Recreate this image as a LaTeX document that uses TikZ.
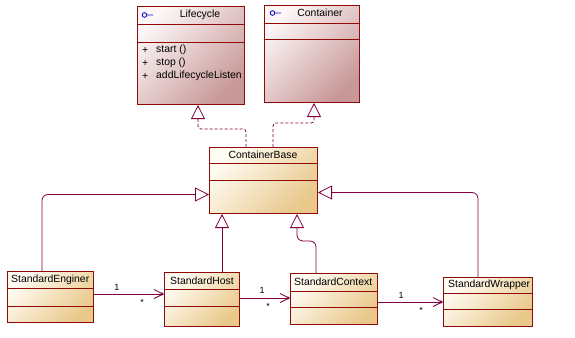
\documentclass[tikz,border=0pt]{standalone}
\usepackage{fontspec}
\setmainfont{Liberation Sans}
\usetikzlibrary{arrows.meta,calc}
\definecolor{bord}{RGB}{145,10,10}
\definecolor{lnk}{RGB}{128,0,64}
\definecolor{pinkL}{RGB}{252,246,246}
\definecolor{pinkD}{RGB}{200,152,152}
\definecolor{creamL}{RGB}{255,252,243}
\definecolor{creamD}{RGB}{233,200,138}
\definecolor{icon}{RGB}{20,20,200}
\begin{document}
\begin{tikzpicture}[x=1pt,y=-1pt,
  pinkcls/.style={draw=bord, line width=1pt, top color=pinkL, bottom color=pinkD, shading angle=45, inner sep=0pt, anchor=north west},
  creamcls/.style={draw=bord, line width=1pt, top color=creamL, bottom color=creamD, shading angle=45, inner sep=0pt, anchor=north west},
  divider/.style={draw=bord, line width=0.8pt},
  lbl/.style={font=\fontsize{10.4pt}{12pt}\selectfont, inner sep=0pt, text=black},
  mult/.style={font=\fontsize{9pt}{10pt}\selectfont, inner sep=0pt, text=black},
  gen/.style={draw=lnk, line width=0.8pt, rounded corners=6pt, -{Triangle[length=14pt,width=14pt,fill=white]}},
  real/.style={gen, dash pattern=on 3pt off 2pt, rounded corners=3pt},
  assoc/.style={draw=lnk, line width=0.8pt, -{Straight Barb[length=9pt,width=9pt]}}
]
\useasboundingbox (0,0) rectangle (575,337);

% Lifecycle
\node[pinkcls, minimum width=107pt, minimum height=98pt] (lc) at (137,6) {};
\draw[divider] ([yshift=-18pt]lc.north west) -- ([yshift=-18pt]lc.north east);
\draw[divider] ([yshift=-36pt]lc.north west) -- ([yshift=-36pt]lc.north east);
\draw[icon, line width=0.9pt] (144.5,15) circle (2.3pt) (146.8,15) -- (153,15);
\node[lbl] (lct) at (200,15) {Lifecycle};
\node[lbl, anchor=west] (p1) at (142,50) {+};
\node[lbl, anchor=west] (p2) at (142,63) {+};
\node[lbl, anchor=west] (p3) at (142,76) {+};
\node[lbl, anchor=west] (o1) at (156,50) {start ()};
\node[lbl, anchor=west] (o2) at (156,63) {stop ()};
\node[lbl, anchor=west] (o3) at (156,76) {addLifecycleListen};

% Container
\node[pinkcls, minimum width=95pt, minimum height=97pt] (ct) at (264,5) {};
\draw[divider] ([yshift=-18pt]ct.north west) -- ([yshift=-18pt]ct.north east);
\draw[divider] ([yshift=-34pt]ct.north west) -- ([yshift=-34pt]ct.north east);
\draw[icon, line width=0.9pt] (272.5,13) circle (2.3pt) (274.8,13) -- (281,13);
\node[lbl] (ctt) at (320,13) {Container};

% ContainerBase
\node[creamcls, minimum width=108pt, minimum height=66pt] (cb) at (209,147) {};
\draw[divider] ([yshift=-16pt]cb.north west) -- ([yshift=-16pt]cb.north east);
\draw[divider] ([yshift=-33pt]cb.north west) -- ([yshift=-33pt]cb.north east);
\node[lbl] (cbt) at (263,155) {ContainerBase};

% StandardEnginer
\node[creamcls, minimum width=86pt, minimum height=51pt] (se) at (7,271) {};
\draw[divider] ([yshift=-17pt]se.north west) -- ([yshift=-17pt]se.north east);
\draw[divider] ([yshift=-35pt]se.north west) -- ([yshift=-35pt]se.north east);
\node[lbl, anchor=west] (set) at (11,280) {StandardEnginer};

% StandardHost
\node[creamcls, minimum width=75pt, minimum height=54pt] (sh) at (164,272) {};
\draw[divider] ([yshift=-17pt]sh.north west) -- ([yshift=-17pt]sh.north east);
\draw[divider] ([yshift=-34pt]sh.north west) -- ([yshift=-34pt]sh.north east);
\node[lbl, anchor=west] (sht) at (170,281) {StandardHost};

% StandardContext
\node[creamcls, minimum width=87pt, minimum height=51pt] (sc) at (290,273) {};
\draw[divider] ([yshift=-18pt]sc.north west) -- ([yshift=-18pt]sc.north east);
\draw[divider] ([yshift=-34pt]sc.north west) -- ([yshift=-34pt]sc.north east);
\node[lbl, anchor=west] (sct) at (294,282) {StandardContext};

% StandardWrapper
\node[creamcls, minimum width=89pt, minimum height=49pt] (sw) at (443,277) {};
\draw[divider] ([yshift=-16pt]sw.north west) -- ([yshift=-16pt]sw.north east);
\draw[divider] ([yshift=-32pt]sw.north west) -- ([yshift=-32pt]sw.north east);
\node[lbl, anchor=west] (swt) at (448,285) {StandardWrapper};

% realizations
\draw[real] ([xshift=37pt]cb.north west) |- ([xshift=61pt,yshift=-24pt]lc.south west) -- ([xshift=61pt]lc.south west);
\draw[real] ([xshift=64pt]cb.north west) |- ([xshift=50pt,yshift=-20pt]ct.south west) -- ([xshift=50pt]ct.south west);

% generalizations
\draw[gen] ([xshift=35pt]se.north west) |- ([yshift=-14pt]cb.west);
\draw[gen] ([xshift=35pt]sw.north west) |- ([yshift=-12pt]cb.east);
\coordinate (b1) at ([xshift=13pt]cb.south west);
\coordinate (b2) at ([xshift=88pt]cb.south west);
\draw[gen] (sh.north -| b1) -- (b1);
\draw[gen] ([xshift=26pt]sc.north west) |- ([yshift=-27pt]b2) -- (b2);

% associations
\coordinate (a1) at (se.east |- 0,294);
\coordinate (a2) at (sh.west |- 0,294);
\draw[assoc] (a1) -- (a2);
\fill[lnk] ([xshift=-2pt]a2) circle (1.6pt);
\node[mult] (m1a) at (117,287) {1};
\node[mult] (m1b) at (142,302) {*};

\coordinate (a3) at (sh.east |- 0,298);
\coordinate (a4) at (sc.west |- 0,298);
\draw[assoc] (a3) -- (a4);
\fill[lnk] ([xshift=-2pt]a4) circle (1.6pt);
\node[mult] (m2a) at (262,290) {1};
\node[mult] (m2b) at (268,306) {*};

\coordinate (a5) at (sc.east |- 0,302);
\coordinate (a6) at (sw.west |- 0,302);
\draw[assoc] (a5) -- (a6);
\fill[lnk] ([xshift=-2pt]a6) circle (1.6pt);
\node[mult] (m3a) at (401,295) {1};
\node[mult] (m3b) at (421,310) {*};
\end{tikzpicture}
\end{document}
